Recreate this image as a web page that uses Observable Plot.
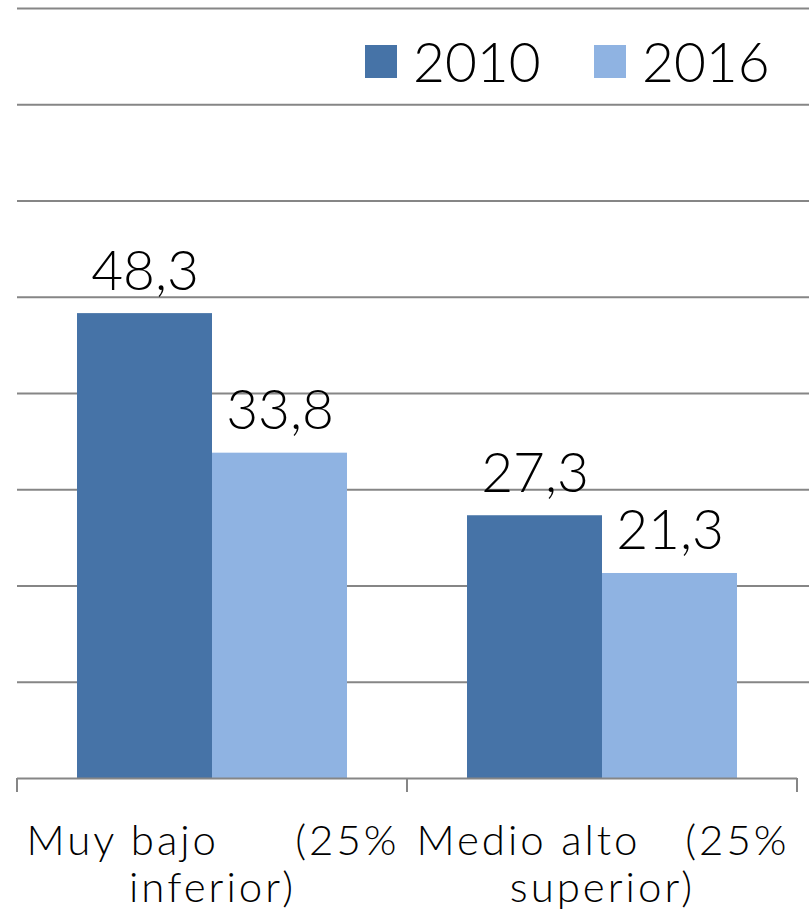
<!DOCTYPE html>
<html><head><meta charset="utf-8">
<script src="https://cdn.jsdelivr.net/npm/d3@7"></script>
<script src="https://cdn.jsdelivr.net/npm/@observablehq/plot@0.6"></script>
<style>
body{margin:0;background:#fff;}
#wrap{position:relative;width:809px;height:920px;overflow:hidden;}
#wrap svg{position:absolute;left:0;top:0;}
</style></head><body><div id="wrap"></div>
<script>
const categories = ["Muy bajo (25% inferior)", "Medio alto (25% superior)"];
const labelLine1Left = ["Muy bajo", "Medio alto"];
const labelLine1Right = ["(25%", "(25%"];
const labelLine2 = ["inferior)", "superior)"];
const years = ["2010", "2016"];
const values2010 = [48.3, 27.3];
const values2016 = [33.8, 21.3];
const gridTicks = [10, 20, 30, 40, 50, 60, 70, 80];
const colors = ["#4673A7", "#8FB3E2"];

const FONT = "Lato, 'Open Sans', sans-serif";
const rows = [];
categories.forEach((c, i) => {
  rows.push({cat: c, year: years[0], value: values2010[i]});
  rows.push({cat: c, year: years[1], value: values2016[i]});
});
const labelRows = categories.map((c, i) => ({cat: c, left: labelLine1Left[i], right: labelLine1Right[i], line2: labelLine2[i]}));
const fmt = v => d3.format(".1f")(v).replace(".", ",");

const common = {width: 809, height: 920, marginLeft: 17, marginTop: 8, marginBottom: 142};

const grid = Plot.plot({
  ...common, marginRight: 0,
  y: {domain: [0, 80], axis: null},
  style: {background: "white"},
  marks: [Plot.ruleY(gridTicks, {stroke: "#868686", strokeWidth: 2})]
});

const main = Plot.plot({
  ...common, marginRight: 12,
  style: {background: "transparent", fontFamily: FONT, overflow: "visible"},
  fx: {domain: categories, padding: 0, axis: null},
  x: {domain: years, paddingInner: 0, paddingOuter: 0.444, axis: null},
  y: {domain: [0, 80], axis: null},
  color: {domain: years, range: colors},
  marks: [
    Plot.barY(rows, {fx: "cat", x: "year", y: "value", fill: "year"}),
    Plot.ruleY([0], {stroke: "#868686", strokeWidth: 2}),
    Plot.text(rows, {fx: "cat", x: "year", y: "value", text: d => fmt(d.value), lineAnchor: "bottom", dy: -24, fontSize: 55, fontWeight: 300, fill: "#000"}),
    Plot.text(labelRows, {fx: "cat", text: "left", frameAnchor: "bottom-left", textAnchor: "start", lineAnchor: "bottom", dx: 9, dy: 76, fontSize: 42, fontWeight: 300, fill: "#000"}),
    Plot.text(labelRows, {fx: "cat", text: "right", frameAnchor: "bottom-right", textAnchor: "end", lineAnchor: "bottom", dx: -8, dy: 76, fontSize: 42, fontWeight: 300, fill: "#000"}),
    Plot.text(labelRows, {fx: "cat", text: "line2", frameAnchor: "bottom", textAnchor: "middle", lineAnchor: "bottom", dy: 123, fontSize: 42, fontWeight: 300, fill: "#000"})
  ]
});

const wrap = document.getElementById("wrap");
wrap.appendChild(grid);
wrap.appendChild(main);

const svg = d3.select(main);
// wider letter spacing for category labels (reference font is wide)
const catTexts = new Set([...labelLine1Left, ...labelLine1Right, ...labelLine2]);
svg.selectAll("text").filter(function() { return catTexts.has(this.textContent); })
  .style("letter-spacing", "3px");

// category boundary ticks from the fx scale
const fx = main.scale("fx");
const y0 = main.scale("y").apply(0);
const bounds = categories.map(c => fx.apply(c)).concat([fx.apply(categories[categories.length - 1]) + fx.bandwidth]);
svg.append("g").selectAll("line").data(bounds).join("line")
  .attr("x1", d => d).attr("x2", d => d).attr("y1", y0).attr("y2", y0 + 14)
  .attr("stroke", "#868686").attr("stroke-width", 2);

// legend
const legendX = [365, 594];
const lg = svg.append("g");
years.forEach((yr, i) => {
  lg.append("rect").attr("x", legendX[i]).attr("y", 45).attr("width", 32).attr("height", 33).attr("fill", colors[i]);
  lg.append("text").attr("x", legendX[i] + 48).attr("y", 82).text(yr)
    .attr("text-anchor", "start")
    .attr("font-size", 55).attr("font-weight", 300).attr("font-family", FONT).attr("fill", "#000");
});
</script></body></html>
